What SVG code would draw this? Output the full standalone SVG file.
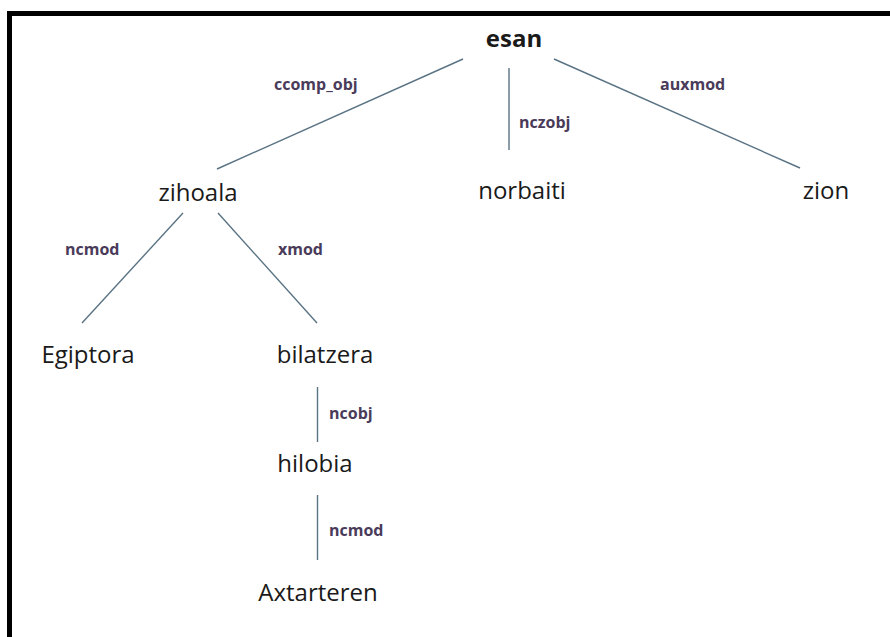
<svg xmlns="http://www.w3.org/2000/svg" width="890" height="637" viewBox="0 0 890 637">
<style>
.node{font-family:"Open Sans","Liberation Sans",sans-serif;font-size:24px;fill:#1a1a1a;text-anchor:middle}
.root{font-weight:bold}
.lbl{font-family:"Open Sans","Liberation Sans",sans-serif;font-size:16px;font-weight:bold;fill:#4a3b5a}
.edge{stroke:#5a7384;stroke-width:1.4;fill:none}
</style>
<rect x="0" y="0" width="890" height="637" fill="#ffffff"/>
<path d="M9.5,637 V13.5 H890" fill="none" stroke="#000" stroke-width="5"/>
<g id="connectors">
<line class="edge" x1="463" y1="59" x2="217" y2="169"/>
<line class="edge" x1="509" y1="68" x2="509" y2="150"/>
<line class="edge" x1="554" y1="59" x2="800" y2="168"/>
<line class="edge" x1="183" y1="213" x2="82" y2="323"/>
<line class="edge" x1="218" y1="213" x2="317" y2="323"/>
<line class="edge" x1="317.5" y1="387" x2="317.5" y2="442"/>
<line class="edge" x1="317.5" y1="495" x2="317.5" y2="560"/>
<text class="lbl" x="274" y="90">ccomp_obj</text>
<text class="lbl" x="519" y="128">nczobj</text>
<text class="lbl" x="660" y="90">auxmod</text>
<text class="lbl" x="65" y="255">ncmod</text>
<text class="lbl" x="278" y="255">xmod</text>
<text class="lbl" x="329" y="419">ncobj</text>
<text class="lbl" x="329" y="536">ncmod</text>
</g>
<g id="esan"><text class="node root" x="514" y="47">esan</text></g>
<g id="zihoala"><text class="node" x="198" y="201">zihoala</text></g>
<g id="norbaiti"><text class="node" x="522" y="199">norbaiti</text></g>
<g id="zion"><text class="node" x="826" y="199">zion</text></g>
<g id="Egiptora"><text class="node" x="88" y="363">Egiptora</text></g>
<g id="bilatzera"><text class="node" x="325" y="363">bilatzera</text></g>
<g id="hilobia"><text class="node" x="315" y="472">hilobia</text></g>
<g id="Axtarteren"><text class="node" x="318" y="601">Axtarteren</text></g>
</svg>
